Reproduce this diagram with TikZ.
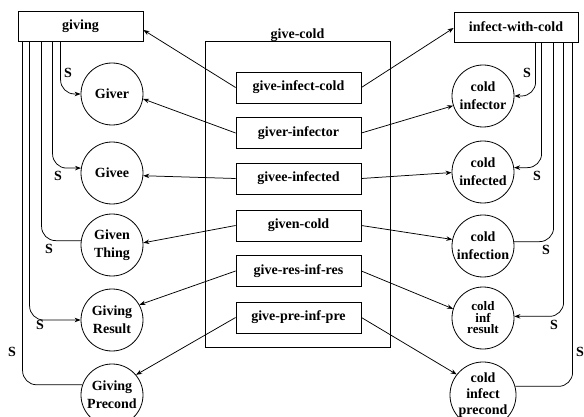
\documentclass[tikz,border=0pt]{standalone}
\usepackage{fontspec}
\setmainfont{Liberation Serif}
\usetikzlibrary{arrows.meta}
\begin{document}
\begin{tikzpicture}[x=1pt,y=-1pt,
  every node/.style={font=\fontsize{14}{18}\selectfont\bfseries},
  box/.style={draw, line width=0.8pt, minimum width=125pt, minimum height=31pt, inner sep=0pt},
  role/.style={draw, circle, line width=0.8pt, minimum size=62pt, inner sep=0pt, align=center},
  tip/.style={-{Stealth[length=6pt,width=4.5pt]}},
  link/.style={line width=0.75pt, tip},
  sub/.style={line width=0.75pt, rounded corners=14pt},
  lab/.style={inner sep=0pt}
]
\useasboundingbox (0,0) rectangle (584,417);
\fill[white] (0,0) rectangle (584,417);

% top boxes
\node[box, minimum height=30pt] (giving) at (80.5,26) {giving};
\node[box, minimum width=124pt, minimum height=30pt] (iwc) at (516,27) {infect-with-cold};

% give-cold frame
\node[draw, line width=0.8pt, minimum width=185pt, minimum height=306pt, inner sep=0pt] (gc) at (297.5,194) {};
\node[anchor=base, inner sep=0pt] (gclab) at (297.5,39) {give-cold};

% inner boxes
\node[box] (gic)  at (298.5,87.5)  {give-infect-cold};
\node[box] (gi)   at (298.5,133)   {giver-infector};
\node[box] (ge)   at (298.5,178.5) {givee-infected};
\node[box] (gcd)  at (298.5,225.5) {given-cold};
\node[box] (grir) at (298.5,271)   {give-res-inf-res};
\node[box] (gpip) at (298.5,317.5) {give-pre-inf-pre};

% left circles
\node[role] (giver)    at (112,94)  {Giver};
\node[role] (givee)    at (112,173) {Givee};
\node[role] (gthing)   at (112,245) {Given\\Thing};
\node[role] (gresult)  at (112,320) {Giving\\Result};
\node[role] (gprecond) at (112,395) {Giving\\Precond};

% right circles
\node[role] (cinfector)  at (483,96)  {cold\\infector};
\node[role] (cinfected)  at (483,172) {cold\\infected};
\node[role] (cinfection) at (483,246) {cold\\infection};
\node[role, font=\fontsize{13}{11.5}\selectfont\bfseries] (cresult) at (483,318) {cold\\inf\\result};
\node[role, font=\fontsize{14}{16}\selectfont\bfseries] (cprecond) at (483,395) {cold\\infect\\precond};

% links from inner boxes
\draw[link] (gic.west) -- ([yshift=-4pt]giving.east);
\draw[link] (gic.east) -- ([yshift=-1pt]iwc.west);
\draw[link] (gi.west) -- (giver.-9);
\draw[link] (gi.east) -- (cinfector.198);
\draw[link] (ge.west) -- (givee.-5);
\draw[link] (ge.east) -- (cinfected.181);
\draw[link] (gcd.west) -- (gthing.4);
\draw[link] (gcd.east) -- (cinfection.168);
\draw[link] (grir.west) -- (gresult.29);
\draw[link] (grir.east) -- (cresult.163);
\draw[link] (gpip.west) -- (gprecond.40);
\draw[link] (gpip.east) -- (cprecond.142);

% S links left
\draw[sub, tip] ([xshift=43pt]giving.south west) |- (giver.west);
\draw[sub, tip] ([xshift=35pt]giving.south west) |- (givee.171);
\draw[sub] ([xshift=24pt]giving.south west) |- (gthing.172);
\draw[sub, tip] ([xshift=12pt]giving.south west) |- (gresult.west);
\draw[sub] ([xshift=5pt]giving.south west) |- (gprecond.161);

% S links right
\draw[sub, tip] ([xshift=82pt]iwc.south west) |- (cinfector.east);
\draw[sub, tip] ([xshift=88pt]iwc.south west) |- (cinfected.8);
\draw[sub] ([xshift=100pt]iwc.south west) |- (cinfection.8);
\draw[sub, tip] ([xshift=110pt]iwc.south west) |- (cresult.3);
\draw[sub] ([xshift=119pt]iwc.south west) |- (cprecond.15);

% S labels
\node[lab] (s1) at (68,73) {S};
\node[lab] (s2) at (58,176) {S};
\node[lab] (s3) at (49,249) {S};
\node[lab] (s4) at (40,325) {S};
\node[lab] (s5) at (12,352) {S};
\node[lab] (s6) at (527,73) {S};
\node[lab] (s7) at (537,176) {S};
\node[lab] (s8) at (546,250) {S};
\node[lab] (s9) at (554,325) {S};
\node[lab] (s10) at (580,352) {S};
\end{tikzpicture}
\end{document}
